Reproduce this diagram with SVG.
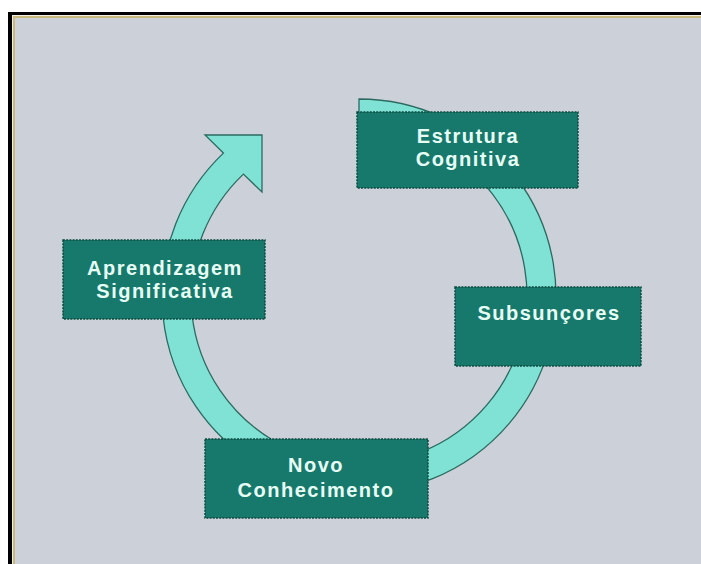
<svg xmlns="http://www.w3.org/2000/svg" width="701" height="564" viewBox="0 0 701 564">
  <style>
    .box { fill: #17796b; stroke: #0c4a40; stroke-width: 1.5; stroke-dasharray: 2 1.2; }
    .lbl { font-family: "Liberation Sans", Arial, sans-serif; font-weight: bold; font-size: 20px; letter-spacing: 1.5px; fill: #e8fff6; text-anchor: middle; }
    .ring { fill: #80e2d4; stroke: #2b6a60; stroke-width: 1.3; stroke-linejoin: miter; }
  </style>
  <rect x="0" y="0" width="701" height="564" fill="#ffffff"/>
  <rect x="8" y="12" width="693" height="552" fill="#000000"/>
  <rect x="12" y="15" width="689" height="549" fill="#f2efe2"/>
  <rect x="13" y="16" width="688" height="548" fill="#c9b97c"/>
  <rect x="15" y="18" width="686" height="546" fill="#cbd0d9"/>

  <g id="connectors">
    <path class="ring" d="M 359 99 A 197 197 0 1 1 223.4 153.1 L 205 135 L 262 135 L 262 192 L 243.4 174.1 A 168 168 0 1 0 359 128 Z"/>
  </g>

  <g id="node-estrutura">
    <rect class="box" x="357" y="112" width="221" height="76"/>
    <text class="lbl" x="468" y="143">Estrutura</text>
    <text class="lbl" x="468" y="166">Cognitiva</text>
  </g>
  <g id="node-subsuncores">
    <rect class="box" x="455" y="287" width="186" height="79"/>
    <text class="lbl" x="549" y="320">Subsunçores</text>
  </g>
  <g id="node-novo">
    <rect class="box" x="205" y="439" width="223" height="79"/>
    <text class="lbl" x="316" y="472">Novo</text>
    <text class="lbl" x="316" y="497">Conhecimento</text>
  </g>
  <g id="node-aprendizagem">
    <rect class="box" x="63" y="240" width="202" height="79"/>
    <text class="lbl" x="165" y="275">Aprendizagem</text>
    <text class="lbl" x="165" y="298">Significativa</text>
  </g>
</svg>
